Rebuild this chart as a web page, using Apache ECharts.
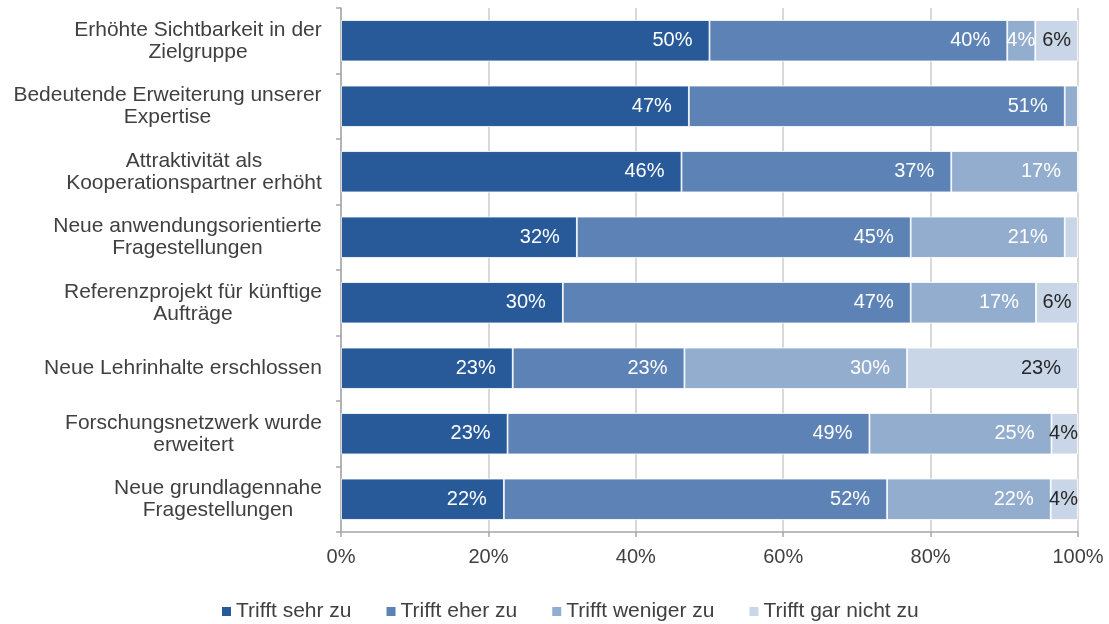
<!DOCTYPE html>
<html>
<head>
<meta charset="utf-8">
<script src="https://cdn.jsdelivr.net/npm/echarts@6/dist/echarts.min.js"></script>
<style>
  html, body { margin: 0; padding: 0; background: #fff; }
  #chart { width: 1109px; height: 624px; }
</style>
</head>
<body>
<div id="chart"></div>
<script>
const categories = [
  'Erhöhte Sichtbarkeit in der\nZielgruppe',
  'Bedeutende Erweiterung unserer\nExpertise',
  'Attraktivität als\nKooperationspartner erhöht',
  'Neue anwendungsorientierte\nFragestellungen',
  'Referenzprojekt für künftige\nAufträge',
  'Neue Lehrinhalte erschlossen',
  'Forschungsnetzwerk wurde\nerweitert',
  'Neue grundlagennahe\nFragestellungen'
]
const seriesNames = ['Trifft sehr zu', 'Trifft eher zu', 'Trifft weniger zu', 'Trifft gar nicht zu']
const sehrZu = [50, 47.2, 46.2, 32, 30.1, 23.3, 22.6, 22.1]
const eherZu = [40.4, 51, 36.6, 45.3, 47.2, 23.3, 49.1, 52]
const wenigerZu = [3.8, 1.8, 17.2, 20.9, 17, 30.2, 24.7, 22.2]
const garNichtZu = [5.8, 0, 0, 1.8, 5.7, 23.2, 3.6, 3.7]
const xTicks = [0, 20, 40, 60, 80, 100]

const colors = ['#285A9A', '#5C82B6', '#93ADCE', '#C9D6E8']
const labelColors = ['#fff', '#fff', '#fff', '#262626']
const textColor = '#404040'
const font = '"Liberation Sans", Arial, sans-serif'

const gridLeft = 341
const gridRight = 31
const pxPerPct = (1109 - gridLeft - gridRight) / 100

const ctx = document.createElement('canvas').getContext('2d')
const measure = (text, size) => {
  ctx.font = size + 'px "Liberation Sans"'
  return ctx.measureText(text).width
}

// each category label: lines centred within the block, block right-aligned
const rich = {}
categories.forEach((c, i) => {
  rich['c' + i] = {
    width: Math.ceil(Math.max(...c.split('\n').map(l => measure(l, 21)))),
    align: 'center',
    fontSize: 21,
    lineHeight: 22,
    color: textColor,
    fontFamily: font
  }
})

const labelText = v => v < 3 ? '' : Math.round(v) + '%'

// Excel-like inside-end labels: 17px from the end, centred when the segment is narrow
const makeData = values => values.map(v => {
  const w = v * pxPerPct
  const lw = measure(labelText(v), 20)
  return {
    value: v,
    label: { distance: Math.min(17, Math.max(0, (w - lw) / 2)) }
  }
})

const allValues = [sehrZu, eherZu, wenigerZu, garNichtZu]

const chart = echarts.init(document.getElementById('chart'))
chart.setOption({
  animation: false,
  backgroundColor: '#fff',
  textStyle: { fontFamily: font },
  legend: {
    left: 220,
    top: 601,
    padding: 0,
    icon: 'rect',
    itemWidth: 11,
    itemHeight: 11,
    itemGap: 33,
    textStyle: { fontSize: 21, color: textColor, fontFamily: font, padding: [0, 0, 0, -1] },
    data: seriesNames
  },
  grid: {
    left: gridLeft,
    right: gridRight,
    top: 8,
    bottom: 92,
    containLabel: false
  },
  xAxis: {
    type: 'value',
    min: xTicks[0],
    max: xTicks[xTicks.length - 1],
    interval: 20,
    axisLine: { show: true, lineStyle: { color: '#A6A6A6', width: 1.5 } },
    axisTick: { show: true, length: 5, lineStyle: { color: '#A6A6A6', width: 1.5 } },
    axisLabel: {
      margin: 15,
      fontSize: 20,
      color: textColor,
      fontFamily: font,
      formatter: '{value}%'
    },
    splitLine: { show: true, lineStyle: { color: '#D9D9D9', width: 2 } }
  },
  yAxis: {
    type: 'category',
    inverse: true,
    data: categories,
    axisLine: { show: true, lineStyle: { color: '#A6A6A6', width: 1.5 } },
    axisTick: { show: true, length: 5, lineStyle: { color: '#A6A6A6', width: 1.5 } },
    axisLabel: {
      margin: 19,
      formatter: (value, index) => value.split('\n').map(l => '{c' + index + '|' + l + '}').join('\n'),
      rich: rich
    }
  },
  series: seriesNames.map((name, i) => ({
    name: name,
    type: 'bar',
    stack: 'total',
    barCategoryGap: '37%',
    itemStyle: { color: colors[i], borderColor: '#fff', borderWidth: 0.8 },
    label: {
      show: true,
      position: 'insideRight',
      color: labelColors[i],
      fontSize: 20,
      fontFamily: font,
      formatter: p => labelText(p.value)
    },
    data: makeData(allValues[i])
  }))
})
</script>
</body>
</html>
